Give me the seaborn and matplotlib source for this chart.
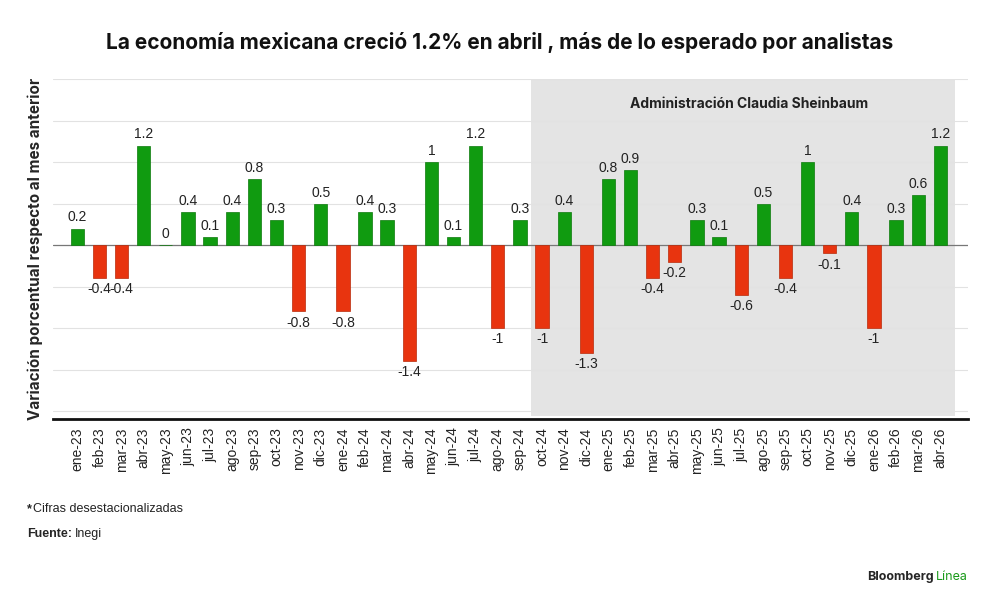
import pandas as pd
import matplotlib.pyplot as plt
import seaborn as sns

meses = ['ene-23', 'feb-23', 'mar-23', 'abr-23', 'may-23', 'jun-23', 'jul-23', 'ago-23',
         'sep-23', 'oct-23', 'nov-23', 'dic-23', 'ene-24', 'feb-24', 'mar-24', 'abr-24',
         'may-24', 'jun-24', 'jul-24', 'ago-24', 'sep-24', 'oct-24', 'nov-24', 'dic-24',
         'ene-25', 'feb-25', 'mar-25', 'abr-25', 'may-25', 'jun-25', 'jul-25', 'ago-25',
         'sep-25', 'oct-25', 'nov-25', 'dic-25', 'ene-26', 'feb-26', 'mar-26', 'abr-26']
variacion = [0.2, -0.4, -0.4, 1.2, 0, 0.4, 0.1, 0.4,
             0.8, 0.3, -0.8, 0.5, -0.8, 0.4, 0.3, -1.4,
             1, 0.1, 1.2, -1, 0.3, -1, 0.4, -1.3,
             0.8, 0.9, -0.4, -0.2, 0.3, 0.1, -0.6, 0.5,
             -0.4, 1, -0.1, 0.4, -1, 0.3, 0.6, 1.2]
inicio_sheinbaum = 'oct-24'

df = pd.DataFrame({'mes': meses, 'valor': variacion})
df['signo'] = ['pos' if v >= 0 else 'neg' for v in df['valor']]

sns.set_style('white')
plt.rcParams['font.family'] = ['Liberation Sans', 'DejaVu Sans']

fig = plt.figure(figsize=(10, 6.05), dpi=100)
ax = fig.add_axes([0.053, 0.307, 0.915, 0.562])

verde = '#109b10'
rojo = '#e8340f'
sns.barplot(data=df, x='mes', y='valor', hue='signo', order=meses,
            palette={'pos': verde, 'neg': rojo}, width=0.6, dodge=False,
            saturation=1, legend=False, ax=ax, zorder=3)
for p in ax.patches:
    fc = p.get_facecolor()
    p.set_edgecolor('#0c7a0c' if fc[1] > 0.5 else '#b82a0a')
    p.set_linewidth(0.5)

n = len(meses)
ax.set_xlim(-1.1, n - 1 + 1.25)
ax.set_ylim(-2.1, 2.0)

# sombreado de la administración
i0 = meses.index(inicio_sheinbaum)
ax.axvspan(i0 - 0.5, n - 1 + 0.65, ymin=0.01, ymax=1.0, color='#e4e4e4', zorder=0, lw=0)
ax.text((i0 - 0.5 + n - 1 + 0.65) / 2 + 0.3, 1.7, 'Administración Claudia Sheinbaum',
        ha='center', va='center', fontsize=10, fontweight='bold', color='#222222',
        family=['Inter', 'DejaVu Sans'], zorder=4)

for y in [-2, -1.5, -1, -0.5, 0.5, 1, 1.5, 2]:
    ax.axhline(y, color='#e2e2e2', lw=0.8, zorder=1)
ax.axhline(0, color='#777777', lw=0.9, zorder=2)

for i, v in enumerate(variacion):
    etiqueta = f'{v:g}'
    if v >= 0:
        ax.text(i, v + 0.05, etiqueta, ha='center', va='bottom', fontsize=10, color='#222222', zorder=4)
    else:
        ax.text(i, v - 0.05, etiqueta, ha='center', va='top', fontsize=10, color='#222222', zorder=4)

for s in ['top', 'right', 'left']:
    ax.spines[s].set_visible(False)
ax.spines['bottom'].set_color('#111111')
ax.spines['bottom'].set_linewidth(2)
ax.set_yticks([])
ax.set_xlabel('')
ax.set_ylabel('Variación porcentual respecto al mes anterior', fontsize=11,
              fontweight='bold', family=['Inter', 'DejaVu Sans'], labelpad=7)
ax.tick_params(axis='x', length=0, pad=6)
ax.set_xticks(range(n))
ax.set_xticklabels(meses, rotation=90, fontsize=10, color='#222222')

fig.text(0.5, 0.93, 'La economía mexicana creció 1.2% en abril , más de lo esperado por analistas',
         ha='center', va='center', fontsize=15, fontweight='bold', color='#111111',
         family=['Inter', 'DejaVu Sans'])

fig.text(0.027, 0.158, '*', ha='left', va='center', fontsize=9, fontweight='bold')
fig.text(0.033, 0.158, 'Cifras desestacionalizadas', ha='left', va='center', fontsize=9, color='#222222')
fig.text(0.027, 0.117, 'Fuente:', ha='left', va='center', fontsize=9, fontweight='bold')
fig.text(0.075, 0.117, 'Inegi', ha='left', va='center', fontsize=9, color='#222222')

fig.text(0.934, 0.046, 'Bloomberg', ha='right', va='center', fontsize=9, fontweight='bold',
         family=['Inter', 'DejaVu Sans'])
fig.text(0.936, 0.046, 'Línea', ha='left', va='center', fontsize=9, color='#1a9a1a',
         family=['Inter', 'DejaVu Sans'])

fig.savefig('out.png', dpi=100)
